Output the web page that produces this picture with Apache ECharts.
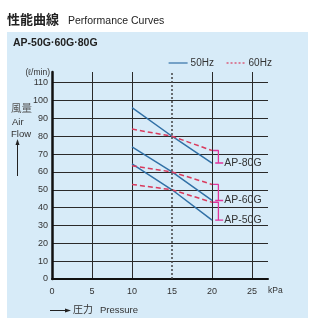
<!DOCTYPE html>
<html>
<head>
<meta charset="utf-8">
<script src="https://cdn.jsdelivr.net/npm/echarts@6/dist/echarts.min.js"></script>
<style>
  html, body { margin: 0; padding: 0; background: #fff; }
  #box { position: absolute; left: 7px; top: 32px; width: 301px; height: 286px; background: #d7ebf8; }
  #chart { position: absolute; left: 0; top: 0; width: 318px; height: 324px; }
</style>
</head>
<body>
<div id="box"></div>
<div id="chart"></div>
<script>
// pressure points (kPa)
const pressure = [10, 15, 20];
const models = ['AP-80G', 'AP-60G', 'AP-50G'];
// air flow (l/min)
const flow50 = {
  'AP-80G': [96, 80, 65],
  'AP-60G': [74, 60, 44],
  'AP-50G': [64.5, 50, 33]
};
const flow60 = {
  'AP-80G': [84, 80, 72],
  'AP-60G': [63.5, 60, 53],
  'AP-50G': [53, 50, 43]
};
const xTicks = [0, 5, 10, 15, 20, 25];
const yTicks = [0, 10, 20, 30, 40, 50, 60, 70, 80, 90, 100, 110];

const FONT = '"Liberation Sans", Arial, sans-serif';
const CJK = '"Noto Sans CJK JP", sans-serif';
const BLUE = '#3170a6';
const RED = '#d93a5d';
const MAG = '#e0359c';
const GRID = '#2a2a2a';

const chart = echarts.init(document.getElementById('chart'));

function pts(vals) {
  return pressure.map(function (p, i) { return [p, vals[i]]; });
}

const series = [];
models.forEach(function (m) {
  series.push({
    name: '50Hz', type: 'line', data: pts(flow50[m]), symbol: 'none', silent: true,
    lineStyle: { color: BLUE, width: 1.5 }, itemStyle: { color: BLUE }, z: 3
  });
  series.push({
    name: '60Hz', type: 'line', data: pts(flow60[m]), symbol: 'none', silent: true,
    lineStyle: { color: RED, width: 1.5, type: [5, 3] }, itemStyle: { color: RED }, z: 4
  });
});

// brackets joining 60Hz and 50Hz end points, labelled with the model
models.forEach(function (m) {
  const top = flow60[m][2];
  const bot = flow50[m][2];
  series.push({
    name: m, type: 'line', symbol: 'none', silent: true,
    data: [[20.1, top], [20.8, top], [20.8, bot], [20.4, bot], [21.4, bot]],
    lineStyle: { color: MAG, width: 1.3 },
    endLabel: {
      show: true, formatter: m, color: '#333', fontFamily: FONT, fontSize: 10.5, distance: 1
    },
    z: 5
  });
});

// dotted 15 kPa line
series[0].markLine = {
  silent: true, symbol: 'none', label: { show: false },
  lineStyle: { color: '#444', type: [2, 2], width: 1.5 },
  data: [{ xAxis: 15 }]
};

const option = {
  animation: false,
  backgroundColor: 'transparent',
  grid: { left: 52, right: 50, top: 72, bottom: 45 },
  legend: {
    data: [{ name: '50Hz' }, { name: '60Hz', lineStyle: { type: [2, 2] } }],
    left: 163, top: 53,
    itemWidth: 19, itemHeight: 10, itemGap: 12,
    itemStyle: { opacity: 0 },
    lineStyle: { width: 1.2 },
    textStyle: { fontFamily: FONT, fontSize: 10, color: '#333', padding: [0, 0, 0, -2] },
    selectedMode: false
  },
  xAxis: {
    type: 'value', min: 0, max: 27, interval: 5,
    axisLine: { show: true, lineStyle: { color: '#111', width: 2 } },
    axisTick: { show: false },
    axisLabel: {
      color: '#333', fontFamily: FONT, fontSize: 9, margin: 8, showMaxLabel: false,
      formatter: function (v) { return xTicks.indexOf(v) >= 0 ? String(v) : ''; }
    },
    splitLine: {
      show: true, showMaxLine: false,
      lineStyle: { color: [GRID, GRID, GRID, 'transparent', GRID, GRID, 'transparent'], width: 1 }
    }
  },
  yAxis: {
    type: 'value', min: 0, max: 116, interval: 10,
    axisLine: { show: true, lineStyle: { color: '#111', width: 2.5 } },
    axisTick: { show: false },
    axisLabel: {
      color: '#333', fontFamily: FONT, fontSize: 9, margin: 4, showMaxLabel: false,
      formatter: function (v) { return yTicks.indexOf(v) >= 0 ? String(v) : ''; }
    },
    splitLine: {
      show: true, showMaxLine: false,
      lineStyle: {
        color: [GRID, GRID, GRID, GRID, GRID, GRID, GRID, GRID, GRID, GRID, GRID, GRID, 'transparent'],
        width: 1
      }
    }
  },
  graphic: [
    { type: 'text', left: 7, top: 13, style: { text: '性能曲線', font: 'bold 13px ' + CJK, fill: '#222' } },
    { type: 'text', left: 68, top: 16, style: { text: 'Performance Curves', font: '10.5px ' + FONT, fill: '#222' } },
    { type: 'text', left: 13, top: 38, style: { text: 'AP-50G·60G·80G', font: 'bold 10.5px ' + FONT, fill: '#222' } },
    { type: 'text', right: 268, top: 68, style: { text: '(ℓ/min)', font: '8.5px ' + FONT, fill: '#333' } },
    { type: 'text', left: 11, top: 103, style: { text: '風量', font: '10.5px ' + CJK, fill: '#555' } },
    { type: 'text', left: 12, top: 117, style: { text: 'Air', font: '9.5px ' + FONT, fill: '#333' } },
    { type: 'text', left: 11, top: 129, style: { text: 'Flow', font: '9.5px ' + FONT, fill: '#333' } },
    { type: 'line', shape: { x1: 17.5, y1: 176, x2: 17.5, y2: 143 }, style: { stroke: '#222', lineWidth: 1 } },
    { type: 'polygon', shape: { points: [[17.5, 139], [15.5, 145], [19.5, 145]] }, style: { fill: '#222' } },
    { type: 'text', left: 268, top: 286, style: { text: 'kPa', font: '8.5px ' + FONT, fill: '#333' } },
    { type: 'line', shape: { x1: 50, y1: 310.5, x2: 67, y2: 310.5 }, style: { stroke: '#222', lineWidth: 1 } },
    { type: 'polygon', shape: { points: [[71, 310.5], [65, 308.5], [65, 312.5]] }, style: { fill: '#222' } },
    { type: 'text', left: 73, top: 304, style: { text: '圧力', font: '10px ' + CJK, fill: '#333' } },
    { type: 'text', left: 100, top: 305, style: { text: 'Pressure', font: '9.5px ' + FONT, fill: '#333' } }
  ],
  series: series
};

chart.setOption(option);
</script>
</body>
</html>
